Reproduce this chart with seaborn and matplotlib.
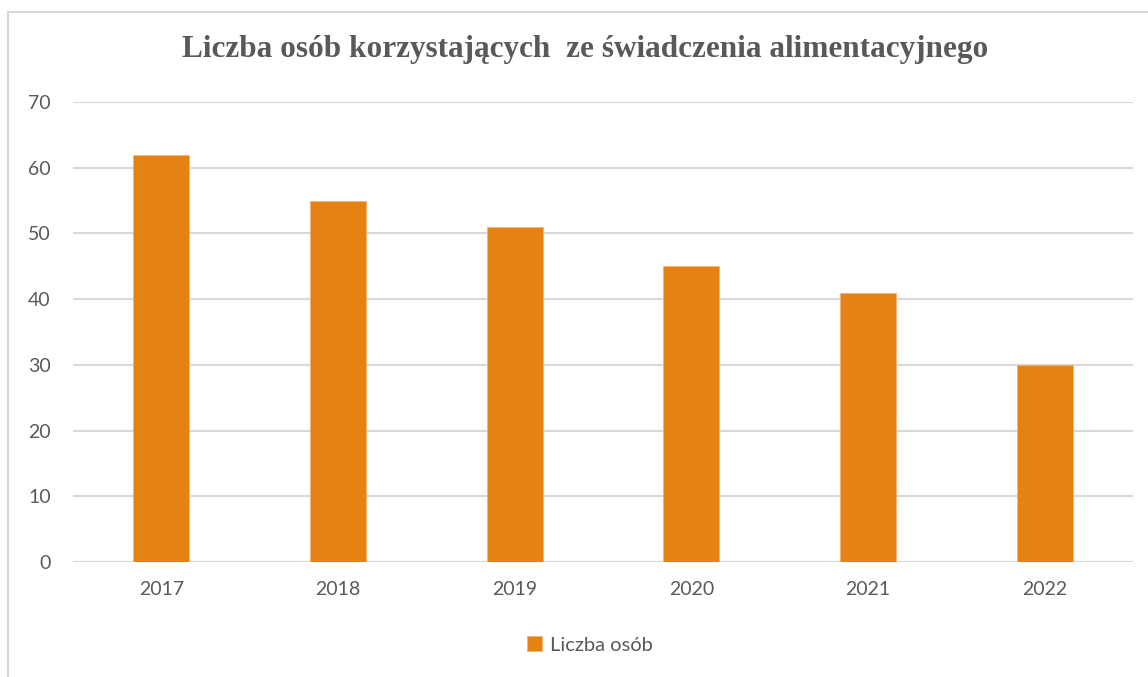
import matplotlib
matplotlib.use("Agg")
import matplotlib.pyplot as plt
import seaborn as sns
import pandas as pd
from matplotlib.patches import Rectangle

years = ["2017", "2018", "2019", "2020", "2021", "2022"]
values = [62, 55, 51, 45, 41, 30]
series_name = "Liczba osób"
title = "Liczba osób korzystających  ze świadczenia alimentacyjnego"
yticks = [0, 10, 20, 30, 40, 50, 60, 70]

df = pd.DataFrame({"rok": years, "liczba": values, "seria": [series_name] * len(years)})

sns.set_theme(style="white")
plt.rcParams["font.family"] = ["Lato", "DejaVu Sans"]

fig = plt.figure(figsize=(11.48, 6.77), dpi=100)
ax = fig.add_axes([73 / 1148, 1 - 562 / 677, (1133 - 73) / 1148, (562 - 102) / 677])

orange = "#E68213"
sns.barplot(data=df, x="rok", y="liczba", hue="seria", palette=[orange], width=0.317,
            saturation=1, ax=ax, zorder=3, edgecolor="#F2B46E", linewidth=0.6)

ax.set_ylim(0, 70)
ax.set_yticks(yticks)
ax.set_xlim(-0.5, len(years) - 0.5)
ax.yaxis.grid(True, color="#D9D9D9", linewidth=1.5, zorder=0)
ax.set_axisbelow(True)
for s in ax.spines.values():
    s.set_visible(False)
ax.tick_params(axis="both", length=0, labelsize=14, colors="#595959")
ax.tick_params(axis="y", pad=16)
ax.tick_params(axis="x", pad=14)
ax.set_xlabel("")
ax.set_ylabel("")
ax.axhline(0, color="#D9D9D9", linewidth=1.5, zorder=1)

leg = ax.get_legend()
handles, labels = ax.get_legend_handles_labels()
leg.remove()
fig.legend(handles, labels, loc="center", bbox_to_anchor=(590 / 1148, 1 - 645 / 677),
           frameon=False, fontsize=14.5, labelcolor="#595959", handlelength=0.7,
           handleheight=0.7, handletextpad=0.4)

fig.text(585 / 1148, 1 - 50 / 677, title, ha="center", va="center",
         fontsize=22.5, fontweight="bold", color="#595959",
         family=["Liberation Serif", "DejaVu Serif"])

fig.patches.append(Rectangle((8 / 1148, -0.05), 1.1, 1 - 12 / 677 + 0.05,
                             transform=fig.transFigure, fill=False,
                             edgecolor="#D9D9D9", linewidth=1.5))

fig.savefig("out.png", dpi=100, facecolor="white")
